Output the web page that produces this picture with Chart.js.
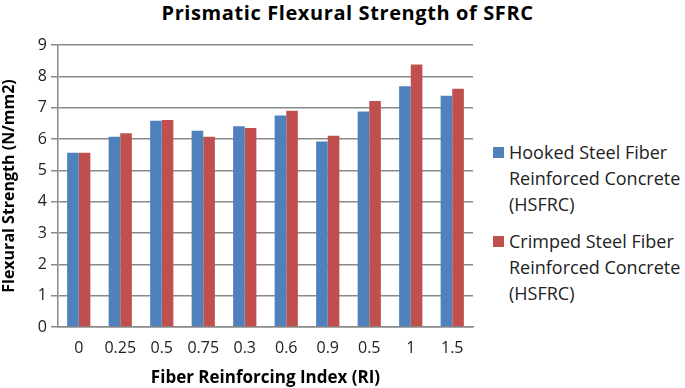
<!DOCTYPE html>
<html>
<head>
<meta charset="utf-8">
<script src="https://cdn.jsdelivr.net/npm/chart.js@4.4.0/dist/chart.umd.min.js"></script>
<style>
  body { margin: 0; background: #fff; font-family: "Open Sans", sans-serif; }
  #wrap { position: relative; width: 685px; height: 388px; overflow: hidden; }
  #title { position: absolute; left: 0; top: 0; width: 695px; text-align: center;
           font-weight: bold; font-size: 20px; letter-spacing: 0.6px; line-height: 26px; color: #000; }
  #box { position: absolute; left: 0; top: 28px; width: 485px; height: 360px; }
  #legend { position: absolute; left: 493px; top: 139px; width: 192px; }
  .item { display: flex; align-items: flex-start; margin-bottom: 11px; }
  .swatch { width: 11px; height: 11px; margin: 8px 5px 0 0; flex: none; }
  .lbl { font-size: 18px; line-height: 26px; color: #222; }
</style>
</head>
<body>
<div id="wrap">
  <div id="title">Prismatic Flexural Strength of SFRC</div>
  <div id="box"><canvas id="chart"></canvas></div>
  <div id="legend"></div>
</div>
<script>
// Datos
const categories = ['0', '0.25', '0.5', '0.75', '0.3', '0.6', '0.9', '0.5', '1', '1.5'];
const hookedValues = [5.56, 6.07, 6.58, 6.26, 6.41, 6.75, 5.92, 6.88, 7.68, 7.38];
const crimpedValues = [5.56, 6.18, 6.61, 6.07, 6.35, 6.90, 6.10, 7.21, 8.38, 7.60];
const seriesNames = [
    ['Hooked Steel Fiber', 'Reinforced Concrete', '(HSFRC)'],
    ['Crimped Steel Fiber', 'Reinforced Concrete', '(HSFRC)']
];
const yTicks = [0, 1, 2, 3, 4, 5, 6, 7, 8, 9];

const gridColor = '#8a8a8a';

const chart = new Chart(document.getElementById('chart'), {
    type: 'bar',
    data: {
        labels: categories,
        datasets: [
            { label: seriesNames[0].join(' '), data: hookedValues, backgroundColor: '#4f81bd' },
            { label: seriesNames[1].join(' '), data: crimpedValues, backgroundColor: '#c0504d' }
        ]
    },
    options: {
        responsive: true,
        maintainAspectRatio: false,
        animation: false,
        layout: { padding: { top: 17, right: 12, left: 0, bottom: 0 } },
        plugins: {
            legend: { display: false },
            tooltip: { enabled: false }
        },
        datasets: { bar: { categoryPercentage: 0.56, barPercentage: 1 } },
        scales: {
            x: {
                grid: { display: false },
                border: { color: gridColor, width: 1.5 },
                ticks: { color: '#222', font: { family: 'Open Sans', size: 16 }, padding: 4 },
                title: {
                    display: true, text: 'Fiber Reinforcing Index (RI)', color: '#000',
                    font: { family: 'Open Sans', size: 17, weight: 'bold' }, padding: { top: 7, bottom: 0 }
                },
                afterFit(scale) { scale.height = 61; }
            },
            y: {
                min: 0, max: 9,
                afterBuildTicks(scale) { scale.ticks = yTicks.map(v => ({ value: v })); },
                grid: { color: gridColor, lineWidth: 1.5, tickLength: 7 },
                border: { color: gridColor, width: 1.5 },
                ticks: { color: '#222', font: { family: 'Open Sans', size: 16 }, padding: 4 },
                title: {
                    display: true, text: 'Flexural Strength (N/mm2)', color: '#000',
                    font: { family: 'Open Sans', size: 16, weight: 'bold' }, padding: { top: 0, bottom: 1 }
                },
                afterFit(scale) { scale.width = 58; }
            }
        }
    }
});

// Leyenda HTML a la derecha
const legend = document.getElementById('legend');
chart.data.datasets.forEach((ds, i) => {
    const item = document.createElement('div');
    item.className = 'item';
    const sw = document.createElement('div');
    sw.className = 'swatch';
    sw.style.background = ds.backgroundColor;
    const lbl = document.createElement('div');
    lbl.className = 'lbl';
    lbl.innerHTML = seriesNames[i].join('<br>');
    item.appendChild(sw);
    item.appendChild(lbl);
    legend.appendChild(item);
});
</script>
</body>
</html>
